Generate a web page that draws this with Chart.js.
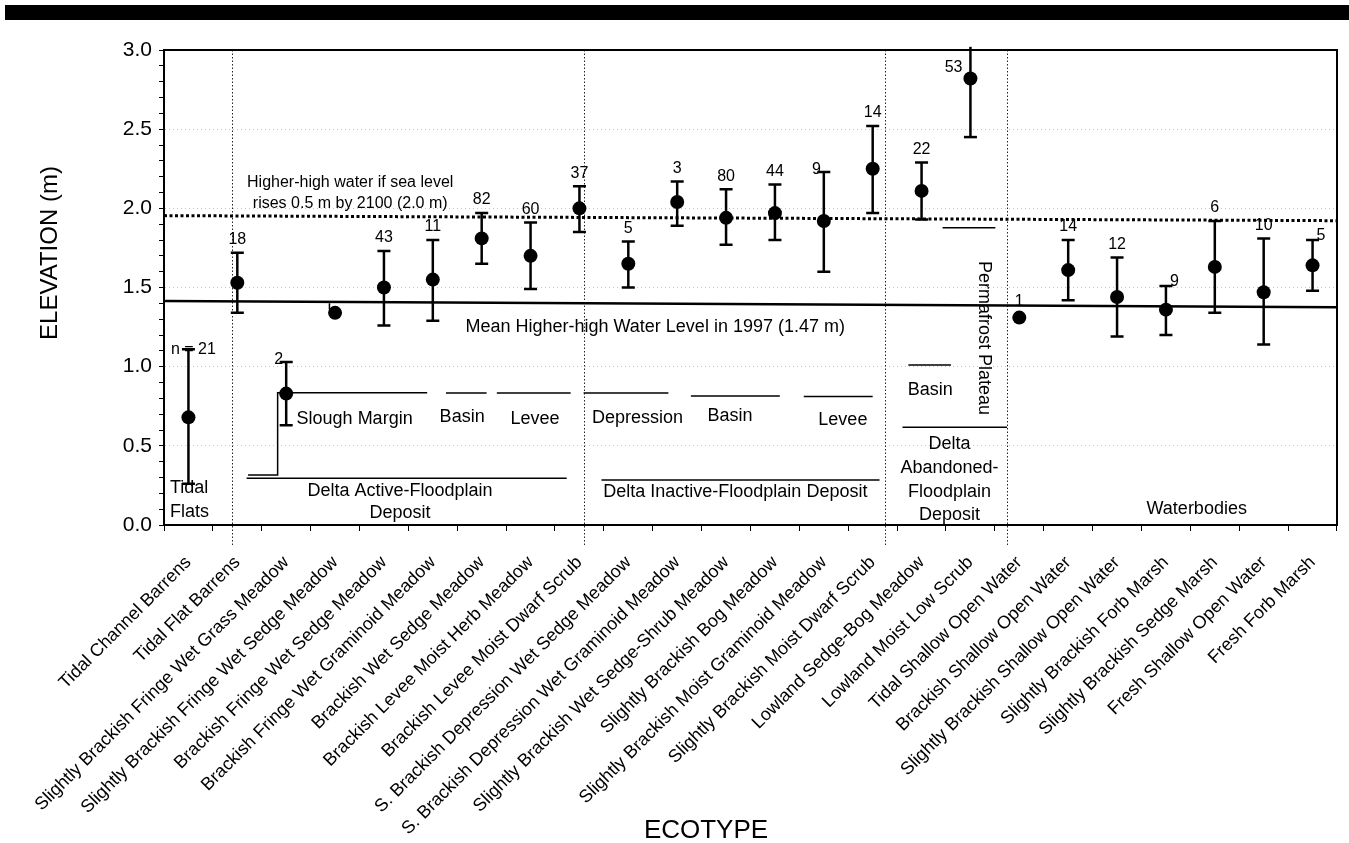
<!DOCTYPE html>
<html>
<head>
<meta charset="utf-8">
<script src="https://cdn.jsdelivr.net/npm/chart.js@4.4.0/dist/chart.umd.min.js"></script>
<style>
html,body{margin:0;padding:0;background:#fff;}
#wrap{position:relative;width:1349px;height:843px;}
</style>
</head>
<body>
<div id="wrap"><canvas id="c" width="1349" height="843"></canvas></div>
<script>
// ---------------- DATA ----------------
const categories = [
  'Tidal Channel Barrens','Tidal Flat Barrens','Slightly Brackish Fringe Wet Grass Meadow',
  'Slightly Brackish Fringe Wet Sedge Meadow','Brackish Fringe Wet Sedge Meadow',
  'Brackish Fringe Wet Graminoid Meadow','Brackish Wet Sedge Meadow','Brackish Levee Moist Herb Meadow',
  'Brackish Levee Moist Dwarf Scrub','S. Brackish Depression Wet Sedge Meadow',
  'S. Brackish Depression Wet Graminoid Meadow','Slightly Brackish Wet Sedge-Shrub Meadow',
  'Slightly Brackish Bog Meadow','Slightly Brackish Moist Graminoid Meadow',
  'Slightly Brackish Moist Dwarf Scrub','Lowland Sedge-Bog Meadow','Lowland Moist Low Scrub',
  'Tidal Shallow Open Water','Brackish Shallow Open Water','Slightly Brackish Shallow Open Water',
  'Slightly Brackish Forb Marsh','Slightly Brackish Sedge Marsh','Fresh Shallow Open Water','Fresh Forb Marsh'
];
const meanElevation = [0.68,1.53,0.83,1.34,1.50,1.55,1.81,1.70,2.00,1.65,2.04,1.94,1.97,1.92,2.25,2.11,2.82,1.31,1.61,1.44,1.36,1.63,1.47,1.64];
const lowerBound    = [0.26,1.34,0.63,null,1.26,1.29,1.65,1.49,1.85,1.50,1.89,1.77,1.80,1.60,1.97,1.93,2.45,null,1.42,1.19,1.20,1.34,1.14,1.48];
const upperBound    = [1.11,1.72,1.03,null,1.73,1.80,1.97,1.91,2.14,1.79,2.17,2.12,2.15,2.23,2.52,2.29,3.02,null,1.80,1.69,1.51,1.92,1.81,1.80];
const sampleSizes   = ['n = 21','18','2','','43','11','82','60','37','5','3','80','44','9','14','22','53','1','14','12','9','6','10','5'];
const samplePlacement = ['nEq','above','capLeft','none','above','above','above','above','above','above','above','above','above','capLeft','above','above','pointLeft','above','above','above','capRight','above','above','capRight'];
const yTickValues = {min:0, max:3, step:0.1, labelStep:0.5};
const meanHHW1997 = [1.415, 1.375];      // level read at left / right edge of plot
const futureHHW2100 = [1.954, 1.922];    // level read at left / right edge of plot
const sectionDividers = [0.887, 8.10, 14.26, 16.75];
const bracketLines = [
  [[1.22,0.316],[1.825,0.316],[1.825,0.836],[4.884,0.836]],
  [[5.27,0.834],[6.10,0.834]],
  [[6.31,0.834],[7.82,0.834]],
  [[8.085,0.834],[9.82,0.834]],
  [[10.28,0.815],[12.10,0.815]],
  [[12.59,0.811],[14.0,0.811]],
  [[14.73,1.011],[15.6,1.011]],
  [[14.61,0.617],[16.75,0.617]],
  [[15.43,1.878],[16.51,1.878]],
  [[1.19,0.295],[7.74,0.295]],
  [[8.45,0.284],[14.14,0.284]],
  [[2.885,1.40],[2.885,1.365],[2.93,1.348]]
];
const regionLabels = [
  ['Tidal',-0.377,0.234,'left'],['Flats',-0.377,0.084,'left'],
  ['Slough Margin',3.40,0.668,'center'],['Basin',5.60,0.682,'center'],['Levee',7.09,0.67,'center'],
  ['Depression',9.19,0.676,'center'],['Basin',11.08,0.69,'center'],['Levee',13.39,0.663,'center'],
  ['Basin',15.18,0.853,'center'],
  ['Delta Active-Floodplain',4.33,0.215,'center'],['Deposit',4.33,0.076,'center'],
  ['Delta Inactive-Floodplain Deposit',11.19,0.207,'center'],
  ['Delta',15.57,0.51,'center'],['Abandoned-',15.57,0.36,'center'],['Floodplain',15.57,0.21,'center'],['Deposit',15.57,0.063,'center'],
  ['Waterbodies',20.63,0.101,'center'],
  ['Mean Higher-high Water Level in 1997 (1.47 m)',9.55,1.253,'center']
];
const smallLabels = [
  ['Higher-high water if sea level',3.31,2.162],
  ['rises 0.5 m by 2100 (2.0 m)',3.31,2.032]
];
const verticalLabels = [['Permafrost Plateau',16.28,1.181]];

// ---------------- RENDER ----------------
const FONT = '"Liberation Sans", Arial, Helvetica, sans-serif';
Chart.defaults.font.family = FONT;
Chart.defaults.color = '#000';
const isHalf = v => Math.abs(v/yTickValues.labelStep - Math.round(v/yTickValues.labelStep)) < 1e-6;

const annot = {
  id: 'annot',
  beforeDraw(chart){
    const ctx = chart.ctx;
    ctx.save();
    ctx.fillStyle = '#000';
    ctx.fillRect(5, 5, 1344, 15);
    ctx.restore();
  },
  beforeDatasetsDraw(chart){
    const {ctx, chartArea:a, scales:{x,y}} = chart;
    ctx.save();
    ctx.strokeStyle = '#222'; ctx.lineWidth = 1; ctx.setLineDash([1.5,2]);
    sectionDividers.forEach(d => {
      const px = Math.round(x.getPixelForValue(d)) + 0.5;
      ctx.beginPath(); ctx.moveTo(px, a.top); ctx.lineTo(px, a.bottom + 20); ctx.stroke();
    });
    ctx.setLineDash([]);
    const x0 = a.left, x1 = a.right;
    ctx.strokeStyle = '#000'; ctx.lineWidth = 2.5;
    ctx.beginPath(); ctx.moveTo(x0, y.getPixelForValue(meanHHW1997[0])); ctx.lineTo(x1, y.getPixelForValue(meanHHW1997[1])); ctx.stroke();
    ctx.lineWidth = 3; ctx.setLineDash([3,2.5]);
    ctx.beginPath(); ctx.moveTo(x0, y.getPixelForValue(futureHHW2100[0])); ctx.lineTo(x1, y.getPixelForValue(futureHHW2100[1])); ctx.stroke();
    ctx.setLineDash([]);
    ctx.lineWidth = 1.5;
    bracketLines.forEach(seg => {
      ctx.beginPath();
      seg.forEach((p,i) => { const px = x.getPixelForValue(p[0]), py = y.getPixelForValue(p[1]); i ? ctx.lineTo(px,py) : ctx.moveTo(px,py); });
      ctx.stroke();
    });
    ctx.lineWidth = 2.5; ctx.lineCap = 'butt';
    meanElevation.forEach((m,i) => {
      if (lowerBound[i] == null || upperBound[i] == null) return;
      const px = x.getPixelForValue(i);
      const pl = y.getPixelForValue(lowerBound[i]), pu = y.getPixelForValue(upperBound[i]);
      ctx.beginPath(); ctx.moveTo(px, pl); ctx.lineTo(px, pu); ctx.stroke();
      ctx.beginPath(); ctx.moveTo(px-6.5, pl); ctx.lineTo(px+6.5, pl);
      if (upperBound[i] <= y.max) { ctx.moveTo(px-6.5, pu); ctx.lineTo(px+6.5, pu); }
      ctx.stroke();
    });
    ctx.restore();
  },
  afterDraw(chart){
    const {ctx, chartArea:a, scales:{x,y}} = chart;
    ctx.save();
    ctx.strokeStyle = '#000'; ctx.lineWidth = 2;
    ctx.strokeRect(a.left, a.top, a.right-a.left, a.bottom-a.top);
    ctx.fillStyle = '#000';
    ctx.textBaseline = 'middle';
    ctx.font = '16px ' + FONT;
    sampleSizes.forEach((s,i) => {
      const place = samplePlacement[i];
      if (!s || place === 'none') return;
      const px = x.getPixelForValue(i);
      const hasCap = upperBound[i] != null;
      const capY = y.getPixelForValue(hasCap ? upperBound[i] : meanElevation[i]);
      const ptY = y.getPixelForValue(meanElevation[i]);
      if (place === 'above') { ctx.textAlign='center'; ctx.fillText(s, px, capY - (hasCap ? 13 : 16)); }
      else if (place === 'capLeft') { ctx.textAlign='right'; ctx.fillText(s, px-3, capY - 2); }
      else if (place === 'capRight') { ctx.textAlign='left'; ctx.fillText(s, px+4, capY - 4); }
      else if (place === 'pointLeft') { ctx.textAlign='right'; ctx.fillText(s, px-8, ptY - 11); }
      else if (place === 'nEq') { ctx.textAlign='center'; ctx.fillText(s, px+5, capY); }
    });
    ctx.font = '18px ' + FONT;
    regionLabels.forEach(([t,xv,yv,al]) => {
      ctx.textAlign = al;
      ctx.fillText(t, x.getPixelForValue(xv), y.getPixelForValue(yv));
    });
    ctx.font = '16px ' + FONT;
    ctx.textAlign = 'center';
    smallLabels.forEach(([t,xv,yv]) => ctx.fillText(t, x.getPixelForValue(xv), y.getPixelForValue(yv)));
    ctx.font = '18px ' + FONT;
    verticalLabels.forEach(([t,xv,yv]) => {
      ctx.save(); ctx.translate(x.getPixelForValue(xv), y.getPixelForValue(yv)); ctx.rotate(Math.PI/2);
      ctx.textAlign='center'; ctx.fillText(t, 0, 0); ctx.restore();
    });
    ctx.font = '24px ' + FONT;
    ctx.save(); ctx.translate(50, 253); ctx.rotate(-Math.PI/2); ctx.textAlign='center'; ctx.fillText('ELEVATION (m)', 0, 0); ctx.restore();
    ctx.font = '26px ' + FONT;
    ctx.textAlign='center'; ctx.fillText('ECOTYPE', 706, 831);
    ctx.restore();
  }
};

new Chart(document.getElementById('c'), {
  type: 'line',
  data: {
    labels: categories,
    datasets: [{
      data: meanElevation,
      showLine: false,
      pointRadius: 7, pointHoverRadius: 7,
      pointBackgroundColor: '#000', pointBorderColor: '#000', borderColor:'#000', borderWidth: 0
    }]
  },
  options: {
    responsive: false,
    animation: false,
    events: [],
    layout: {padding: {top: 50, right: 8, left: 0, bottom: 0}},
    plugins: {legend: {display:false}, tooltip: {enabled:false}},
    scales: {
      x: {
        type: 'category', offset: true,
        ticks: {autoSkip:false, maxRotation:45, minRotation:45, font:{size:18}, color:'#000', padding:21},
        grid: {offset:true, drawOnChartArea:false, tickLength:6, tickColor:'#000', color:'#000', lineWidth:1},
        border: {color:'#000', width:2},
        afterFit: s => { s.height = 318; }
      },
      y: {
        min: yTickValues.min, max: yTickValues.max,
        ticks: {stepSize: yTickValues.step, autoSkip:false, font:{size:21}, color:'#000', padding:7,
          callback: v => isHalf(v) ? (Math.round(v*10)/10).toFixed(1) : ''},
        grid: {
          color: c => (isHalf(c.tick.value) && c.tick.value > 0.01 && c.tick.value < 2.99) ? '#c4c4c4' : 'rgba(0,0,0,0)',
          tickColor: '#000', tickLength: 5, lineWidth: 1, tickBorderDash: []
        },
        border: {color:'#000', width:2, dash:[1,3]},
        afterFit: s => { s.width = 164; }
      }
    }
  },
  plugins: [annot]
});
</script>
</body>
</html>
